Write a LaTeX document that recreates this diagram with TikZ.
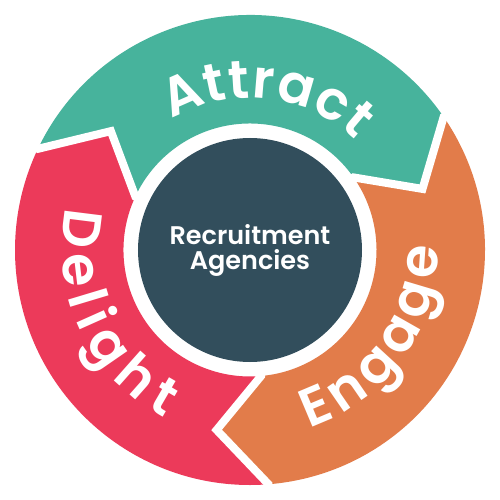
\documentclass[tikz,border=0pt]{standalone}
\usepackage{fontspec}
\setmainfont{Poppins}[UprightFont=* Medium]
\newfontfamily\semib{Poppins SemiBold}
\usetikzlibrary{decorations.text}
\definecolor{tealseg}{HTML}{47B39C}
\definecolor{orangeseg}{HTML}{E27C4A}
\definecolor{redseg}{HTML}{EC3A5A}
\definecolor{hubdark}{HTML}{324E5C}
\newcommand\ringfont{\semib\fontsize{54}{54}\selectfont}
\newcommand\ringseg[3]{%
  \fill[#3] (#1:235pt) arc[start angle=#1, end angle=#2, radius=235pt]
    -- ({#2-15}:183pt) -- ({#2+0.5}:126.5pt)
    arc[start angle={#2+0.5}, end angle={#1+0.5}, radius=126.5pt]
    -- ({#1-15}:183pt) -- cycle;}
\newcommand\gapline[1]{%
  \draw[gapstyle] (#1:252pt) -- (#1:235pt) -- ({#1-15}:183pt)
    -- ({#1+0.5}:126.5pt) -- ({#1+0.5}:118pt);}
\begin{document}
\begin{tikzpicture}[x=1pt,y=1pt,
  gapstyle/.style={white, line width=8pt, line join=miter},
  ringlabel/.style={decorate, decoration={text along path, text align=fit to path, text color=white}}]
\useasboundingbox (-250,-250) rectangle (250,250);
\fill[white] (-250,-250) rectangle (250,250);
% ring segments (tail boundary, head boundary)
\ringseg{154.5}{34.5}{tealseg}
\ringseg{34.5}{-85.5}{orangeseg}
\ringseg{274.5}{154.5}{redseg}
% white separators
\gapline{34.5}
\gapline{154.5}
\gapline{274.5}
% hub
\node[circle, fill=hubdark, minimum size=224pt, inner sep=0pt, text=white,
      align=center, font=\semib\fontsize{25.5}{25}\selectfont] (hub) at (0,0)
      {Recruitment\\Agencies};
% labels along the ring
\path[ringlabel, decoration={text={|\ringfont|Attract}}]
  (121:152pt) arc[start angle=121, end angle=46, radius=152pt];
\path[ringlabel, decoration={text={|\ringfont|Engage}}]
  (-71.5:188pt) arc[start angle=-71.5, end angle=1, radius=188pt];
\path[ringlabel, decoration={text={|\ringfont|Delight}}]
  (167:188pt) arc[start angle=167, end angle=243, radius=188pt];
\end{tikzpicture}
\end{document}
